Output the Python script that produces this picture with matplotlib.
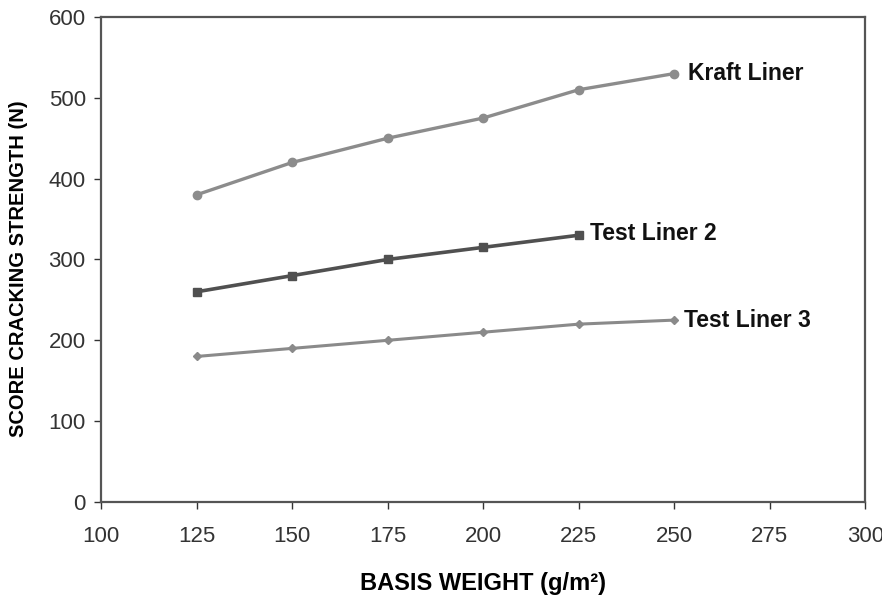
import matplotlib
matplotlib.use("Agg")
import matplotlib.pyplot as plt

basis_weight = [125, 150, 175, 200, 225, 250]
kraft_liner = [380, 420, 450, 475, 510, 530]
test_liner2_x = [125, 150, 175, 200, 225]
test_liner2 = [260, 280, 300, 315, 330]
test_liner3 = [180, 190, 200, 210, 220, 225]
x_ticks = [100, 125, 150, 175, 200, 225, 250, 275, 300]
y_ticks = [0, 100, 200, 300, 400, 500, 600]

plt.rcParams['font.family'] = ['Liberation Sans', 'DejaVu Sans']
fig = plt.figure(figsize=(8.82, 5.99), dpi=100)
ax = fig.add_axes([0.1145, 0.162, 0.8665, 0.8096])

ax.plot(basis_weight, kraft_liner, color='#8c8c8c', lw=2.4, marker='o', ms=6)
ax.plot(test_liner2_x, test_liner2, color='#505050', lw=2.6, marker='s', ms=6)
ax.plot(basis_weight, test_liner3, color='#8a8a8a', lw=2.2, marker='D', ms=4)

lbl = dict(fontsize=16.5, fontweight='bold', va='center', ha='left', color='#111111')
ax.text(253.5, 530, 'Kraft Liner', **lbl)
ax.text(228, 332, 'Test Liner 2', **lbl)
ax.text(252.5, 224, 'Test Liner 3', **lbl)

ax.set_xlim(100, 300)
ax.set_ylim(0, 600)
ax.set_xticks(x_ticks)
ax.set_yticks(y_ticks)
ax.tick_params(labelsize=16, colors='#333333', length=5, width=1, direction='out')
ax.tick_params(axis='x', pad=12)
ax.tick_params(axis='y', pad=6)
for s in ax.spines.values():
    s.set_color('#555555')
    s.set_linewidth(1.6)

ax.set_xlabel('BASIS WEIGHT (g/m²)', fontsize=17, fontweight='bold', labelpad=18)
ax.set_ylabel('SCORE CRACKING STRENGTH (N)', fontsize=14.5, fontweight='bold')
ax.yaxis.set_label_coords(-0.095, 0.48)

fig.savefig('out.png', dpi=100)
